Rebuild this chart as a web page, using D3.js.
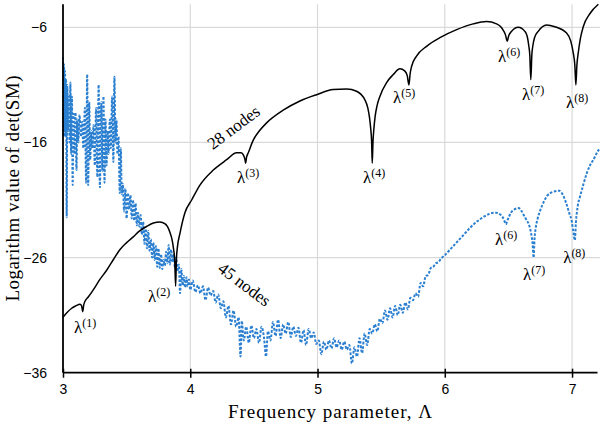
<!DOCTYPE html>
<html><head><meta charset="utf-8">
<script src="https://cdn.jsdelivr.net/npm/d3@7"></script>
<style>html,body{margin:0;padding:0;background:#fff;}svg{display:block;}</style>
</head><body>
<svg id="chart" width="600" height="429"></svg>
<script>
// ---- data ----
const xTicks = [3, 4, 5, 6, 7];
const yTicks = [-6, -16, -26, -36];
const xTitle = "Frequency parameter, Λ";
const yTitle = "Logarithm value of det(SM)";

// 28 nodes (black solid)
const nodes28 = [
  [3.000,-31.2],[3.030,-30.8],[3.068,-30.4],[3.100,-30.2],[3.134,-30.05],[3.146,-30.2],[3.155,-30.7],[3.163,-30.1],
  [3.173,-29.8],[3.200,-29.4],[3.238,-28.8],[3.290,-27.9],[3.343,-27.1],[3.400,-26.1],[3.448,-25.3],[3.500,-24.7],
  [3.552,-24.2],[3.600,-23.7],[3.657,-23.3],[3.710,-23.0],[3.762,-22.9],[3.800,-23.05],[3.820,-23.3],[3.840,-23.8],
  [3.856,-24.4],[3.868,-25.2],[3.878,-26.3],[3.885,-28.5],[3.891,-26.2],[3.898,-25.2],[3.919,-23.9],[3.958,-22.1],
  [4.011,-21.0],[4.076,-19.7],[4.181,-18.4],[4.286,-17.5],[4.364,-16.9],[4.400,-16.9],[4.418,-17.1],[4.430,-17.5],
  [4.435,-17.8],[4.442,-17.3],[4.456,-16.9],[4.495,-15.8],[4.550,-14.9],[4.600,-14.3],[4.730,-13.2],[4.862,-12.4],
  [4.993,-11.85],[5.123,-11.4],[5.229,-11.35],[5.307,-11.55],[5.372,-12.3],[5.395,-13.0],[5.408,-13.8],[5.418,-14.8],
  [5.425,-15.9],[5.430,-17.8],[5.436,-15.9],[5.443,-14.8],[5.452,-13.8],[5.468,-12.8],[5.490,-12.0],[5.543,-10.8],
  [5.595,-10.1],[5.647,-9.6],[5.687,-9.8],[5.705,-10.2],[5.718,-11.0],[5.728,-10.0],[5.739,-9.4],[5.778,-8.5],
  [5.857,-7.65],[5.962,-6.9],[6.093,-6.2],[6.223,-5.7],[6.328,-5.5],[6.407,-5.7],[6.440,-5.95],[6.462,-6.3],
  [6.478,-6.7],[6.490,-7.2],[6.503,-6.7],[6.525,-6.35],[6.577,-6.0],[6.629,-6.35],[6.648,-6.8],[6.660,-7.6],
  [6.668,-8.4],[6.676,-10.55],[6.684,-8.4],[6.692,-7.6],[6.705,-6.9],[6.734,-6.35],[6.800,-5.8],[6.865,-5.95],
  [6.957,-6.5],[6.990,-7.2],[7.009,-8.2],[7.022,-9.3],[7.030,-11.0],[7.038,-9.3],[7.049,-8.2],[7.065,-7.0],
  [7.088,-5.95],[7.141,-4.8],[7.207,-4.0]
];

// 45 nodes (blue dotted)
const nodes45 = [
  [3.000,-8.6],[3.004,-15.5],[3.008,-9.2],[3.012,-15.0],[3.016,-9.8],[3.020,-15.5],[3.024,-10.5],[3.029,-22.5],
  [3.034,-11.0],[3.040,-15.0],[3.046,-12.0],[3.052,-16.0],[3.058,-10.8],[3.064,-17.0],[3.070,-12.0],[3.076,-19.7],
  [3.082,-13.5],[3.090,-17.0],[3.098,-13.4],[3.106,-18.4],[3.112,-14.0],[3.120,-16.0],[3.130,-13.6],[3.140,-15.5],
  [3.150,-14.2],[3.160,-16.5],[3.172,-13.0],[3.182,-19.5],[3.190,-10.1],[3.198,-19.7],[3.206,-12.5],[3.214,-17.5],
  [3.222,-15.0],[3.230,-16.5],[3.240,-14.5],[3.250,-18.0],[3.260,-13.0],[3.270,-19.0],[3.280,-11.0],[3.290,-19.9],
  [3.300,-12.5],[3.310,-18.5],[3.318,-12.0],[3.326,-19.5],[3.334,-14.0],[3.342,-18.0],[3.350,-15.0],[3.358,-17.0],
  [3.368,-14.0],[3.376,-16.5],[3.386,-12.0],[3.396,-17.7],[3.404,-10.3],[3.412,-16.0],[3.420,-14.0],[3.428,-17.0],
  [3.436,-15.5],[3.446,-20.4],[3.454,-16.5],[3.462,-20.5],
  [3.47,-19.6],[3.48,-22.0],[3.49,-20.0],[3.50,-22.6],[3.51,-20.4],[3.52,-21.8],[3.53,-20.6],[3.54,-22.6],
  [3.55,-21.0],[3.56,-22.8],[3.57,-21.3],[3.58,-23.2],[3.59,-22.1],[3.60,-23.3],[3.61,-22.3],[3.62,-24.0],
  [3.63,-22.9],[3.64,-24.8],[3.65,-23.5],[3.66,-25.2],[3.67,-23.7],[3.68,-25.4],[3.69,-24.4],[3.70,-26.0],
  [3.71,-24.7],[3.72,-26.2],[3.73,-25.0],[3.74,-26.8],[3.75,-25.2],[3.76,-26.9],[3.77,-25.7],[3.78,-27.0],
  [3.79,-26.2],[3.80,-26.7],[3.81,-25.5],[3.82,-26.5],[3.83,-24.9],[3.84,-26.6],[3.85,-25.3],[3.86,-26.4],
  [3.87,-25.7],[3.88,-26.9],[3.89,-26.0],[3.90,-27.2],[3.91,-26.6],[3.92,-29.1],[3.93,-27.0],[3.94,-28.4],
  [3.95,-27.6],[3.96,-28.6],[3.97,-27.7],[3.98,-28.5],[3.99,-27.9],[4.00,-28.8],[4.02,-28.0],[4.04,-29.0],
  [4.06,-28.4],[4.08,-29.1],[4.10,-28.5],[4.12,-29.7],[4.14,-28.6],[4.16,-29.3],[4.18,-28.9],[4.20,-29.9],
  [4.22,-29.2],[4.24,-30.4],[4.26,-29.8],[4.28,-31.2],[4.30,-30.2],[4.32,-31.8],[4.34,-30.6],[4.36,-32.0],
  [4.38,-31.2],[4.395,-34.6],[4.405,-31.5],[4.42,-33.2],[4.44,-32.0],[4.46,-33.4],[4.48,-31.9],[4.50,-33.0],
  [4.52,-32.2],[4.54,-33.4],[4.56,-32.0],[4.58,-33.0],[4.595,-34.6],[4.61,-32.4],[4.63,-33.2],[4.65,-31.6],
  [4.67,-32.8],[4.69,-31.4],[4.71,-33.0],[4.73,-31.8],[4.75,-32.6],[4.77,-31.6],[4.79,-32.9],[4.81,-32.0],
  [4.83,-32.8],[4.85,-32.1],[4.87,-33.4],[4.89,-32.3],[4.91,-33.6],[4.93,-32.2],[4.95,-33.0],[4.97,-32.5],
  [4.99,-33.5],[5.01,-33.2],[5.03,-34.4],[5.05,-33.3],[5.07,-34.0],[5.09,-33.2],[5.11,-33.9],[5.13,-33.0],
  [5.15,-33.8],[5.17,-33.2],[5.19,-34.0],[5.21,-33.3],[5.23,-34.0],[5.25,-33.6],[5.27,-35.2],[5.29,-33.8],
  [5.31,-34.6],[5.33,-33.0],[5.35,-34.3],[5.37,-32.6],[5.39,-33.6],[5.41,-32.2],[5.43,-32.6],[5.45,-31.8],
  [5.47,-32.4],[5.49,-31.3],[5.51,-31.7],[5.53,-30.6],[5.55,-31.4],[5.57,-30.4],[5.59,-31.2],[5.61,-30.2],
  [5.63,-31.0],[5.65,-30.1],[5.67,-30.8],[5.69,-29.9],[5.71,-30.5],[5.73,-29.5],[5.75,-29.7],[5.77,-29.1],
  [5.79,-29.4],[5.81,-28.2],[5.83,-28.5],[5.85,-27.6],[5.87,-27.5],[5.89,-26.9],[5.91,-26.8],[5.93,-26.5],
  [5.95,-26.4],[5.97,-26.1],[6.00,-25.8],
  [6.05,-25.2],[6.10,-24.6],[6.15,-24.0],[6.20,-23.4],[6.25,-22.9],[6.30,-22.5],[6.35,-22.2],[6.40,-22.1],
  [6.44,-22.3],[6.465,-22.7],[6.48,-23.1],[6.495,-22.7],[6.52,-22.1],[6.55,-21.8],[6.58,-21.7],[6.60,-21.9],
  [6.62,-22.3],[6.64,-22.7],[6.66,-23.1],[6.68,-24.0],[6.69,-24.8],[6.698,-26.0],[6.705,-24.4],[6.715,-23.4],
  [6.73,-22.6],[6.75,-21.9],[6.78,-21.1],[6.80,-20.7],[6.85,-20.3],[6.90,-20.2],[6.93,-20.6],[6.955,-21.3],
  [6.98,-22.2],[6.995,-22.7],[7.012,-23.9],[7.022,-24.5],[7.03,-23.0],[7.045,-21.5],[7.063,-20.7],[7.09,-19.6],
  [7.115,-18.7],[7.14,-18.0],[7.168,-17.5],[7.20,-16.8],[7.212,-16.6]
];

// eigenvalue labels: [sup text, Λ anchor, value anchor]
const labels28 = [["(1)",3.086,-32.55],["(2)",3.668,-29.86],["(3)",4.367,-19.52],["(4)",5.358,-19.52],
                  ["(5)",5.593,-12.57],["(6)",6.418,-9.0],["(7)",6.607,-12.3],["(8)",6.953,-13.0]];
const labels45 = [["(6)",6.395,-24.9],["(7)",6.615,-27.95],["(8)",6.93,-26.5]];
const seriesNames = ["28 nodes", "45 nodes"];

// ---- chart ----
const svg = d3.select("#chart");
const x = d3.scaleLinear().domain([3, 7.2]).range([63, 597.5]);
const y = d3.scaleLinear().domain([-36, -4]).range([372.7, 4.3]);
const serif = "'Liberation Serif','Times New Roman',serif";
const sans = "'Liberation Sans',Arial,sans-serif";

// grid
svg.append("g").selectAll("line").data(xTicks.filter(d => d > 3)).join("line")
  .attr("x1", d => x(d)).attr("x2", d => x(d)).attr("y1", y(-4)).attr("y2", y(-36))
  .attr("stroke", "#d9d9d9").attr("stroke-width", 1.2);
svg.append("g").selectAll("line").data(yTicks.filter(d => d > -36)).join("line")
  .attr("x1", x(3)).attr("x2", 600).attr("y1", d => y(d)).attr("y2", d => y(d))
  .attr("stroke", "#d9d9d9").attr("stroke-width", 1.2);

// lines
const line = d3.line().x(d => x(d[0])).y(d => y(d[1])).curve(d3.curveMonotoneX);
svg.append("path").datum(nodes45).attr("d", line).attr("fill", "none")
  .attr("stroke", "#2a7fd0").attr("stroke-width", 2).attr("stroke-dasharray", "2.6,1.6");
svg.append("path").datum(nodes28).attr("d", line).attr("fill", "none")
  .attr("stroke", "#000").attr("stroke-width", 1.5);

// axes
const xAxis = d3.axisBottom(x).tickValues(xTicks).tickSize(5).tickFormat(d3.format("d"));
const gx = svg.append("g").attr("transform", `translate(0,${y(-36)})`).call(xAxis);
gx.select(".domain").remove();
gx.selectAll(".tick line").attr("y1", -4).attr("y2", 5).attr("stroke", "#000").attr("stroke-width", 1.5);
gx.selectAll(".tick text").attr("y", 11).attr("dy", "0.71em").attr("font-family", sans).attr("font-size", 14).attr("fill", "#000");
svg.append("line").attr("x1", x(3)).attr("x2", x(7.2)).attr("y1", y(-36)).attr("y2", y(-36))
  .attr("stroke", "#000").attr("stroke-width", 1.8);

const yAxis = d3.axisLeft(y).tickValues(yTicks).tickSize(0).tickPadding(16);
const gy = svg.append("g").attr("transform", `translate(${x(3)},0)`).call(yAxis);
gy.select(".domain").remove();
gy.selectAll(".tick text").attr("font-family", sans).attr("font-size", 14).attr("fill", "#000");
svg.append("line").attr("x1", x(3)).attr("x2", x(3)).attr("y1", y(-4)).attr("y2", y(-36))
  .attr("stroke", "#000").attr("stroke-width", 1.8);

// titles
svg.append("text").attr("x", 330).attr("y", 418).attr("text-anchor", "middle")
  .attr("font-family", serif).attr("font-size", 19).attr("textLength", 204).attr("lengthAdjust", "spacing")
  .text(xTitle);
svg.append("text").attr("transform", "translate(19,188.5) rotate(-90)").attr("text-anchor", "middle")
  .attr("font-family", serif).attr("font-size", 19).attr("textLength", 226).attr("lengthAdjust", "spacing")
  .text(yTitle);

// series labels
svg.append("text").attr("transform", "translate(237,132) rotate(-37)").attr("text-anchor", "middle")
  .attr("font-family", serif).attr("font-size", 17).text(seriesNames[0]);
svg.append("text").attr("transform", "translate(241,289) rotate(37)").attr("text-anchor", "middle")
  .attr("font-family", serif).attr("font-size", 17).text(seriesNames[1]);

// eigen labels
function lam(g, d) {
  const t = g.append("text").attr("x", x(d[1])).attr("y", y(d[2]))
    .attr("font-family", serif).attr("font-size", 17).attr("fill", "#000");
  t.append("tspan").text("λ");
  t.append("tspan").attr("font-size", 12).attr("dy", -6).text(d[0]);
}
const gl = svg.append("g");
labels28.forEach(d => lam(gl, d));
labels45.forEach(d => lam(gl, d));
</script>
</body></html>
